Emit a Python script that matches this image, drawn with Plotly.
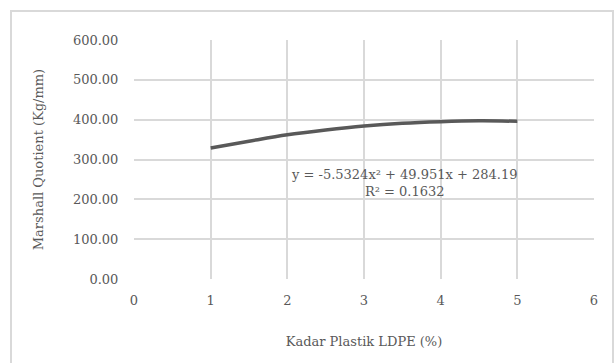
import plotly.graph_objects as go

x_vals = [1, 1.5, 2, 2.5, 3, 3.5, 4, 4.5, 5]
y_vals = [329, 346, 362, 374, 384, 391, 395, 397, 396]
x_ticks = [0, 1, 2, 3, 4, 5, 6]
y_ticks = [0, 100, 200, 300, 400, 500, 600]
y_tick_labels = ["0.00", "100.00", "200.00", "300.00", "400.00", "500.00", "600.00"]
eq_text = "y = -5.5324x² + 49.951x + 284.19<br>R² = 0.1632"

FONT = "DejaVu Serif"
GRAY = "#595959"
GRID = "#d9d9d9"
FS = 13

fig = go.Figure()
fig.add_trace(go.Scatter(x=x_vals, y=y_vals, mode="lines",
                         line=dict(color=GRAY, width=3.5, shape="spline"),
                         showlegend=False, hoverinfo="skip"))

fig.add_annotation(x=3.53, y=241, xref="x", yref="y", text=eq_text,
                   showarrow=False, align="center",
                   font=dict(family=FONT, size=FS, color=GRAY))

fig.add_shape(type="rect", xref="paper", yref="paper",
              x0=-0.2674, x1=1.0413, y0=-0.40, y1=1.1213,
              line=dict(color=GRID, width=2), fillcolor="rgba(0,0,0,0)")

fig.update_layout(
    width=614, height=363,
    margin=dict(l=134, r=20, t=40, b=84, autoexpand=False),
    paper_bgcolor="white", plot_bgcolor="white",
    font=dict(family=FONT, color=GRAY, size=FS),
    xaxis=dict(range=[0, 6], tickvals=x_ticks, showgrid=True, gridcolor=GRID,
               gridwidth=2, zeroline=False, showline=False,
               ticks="outside", ticklen=9, tickcolor="rgba(0,0,0,0)",
               automargin=False,
               title=dict(text="Kadar Plastik LDPE (%)", standoff=30,
                          font=dict(family=FONT, size=FS, color=GRAY)),
               tickfont=dict(family=FONT, size=FS, color=GRAY)),
    yaxis=dict(range=[0, 600], tickvals=y_ticks, ticktext=y_tick_labels,
               showgrid=True, gridcolor=GRID, gridwidth=2, zeroline=False,
               showline=False, ticks="outside", ticklen=12,
               tickcolor="rgba(0,0,0,0)", automargin=False,
               title=dict(text="Marshall Quotient (Kg/mm)", standoff=26,
                          font=dict(family=FONT, size=FS, color=GRAY)),
               tickfont=dict(family=FONT, size=FS, color=GRAY)),
)

fig.write_html("out.html", config={"displayModeBar": False},
               post_script="document.body.style.margin='0';document.body.style.padding='0';")
